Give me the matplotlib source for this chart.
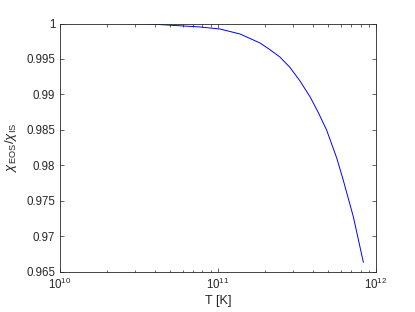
import matplotlib
matplotlib.use("Agg")
import matplotlib.pyplot as plt
import numpy as np

plt.rcParams['font.family'] = ['Liberation Sans', 'DejaVu Sans']
plt.rcParams['mathtext.fontset'] = 'custom'
plt.rcParams['mathtext.rm'] = 'Liberation Sans'
plt.rcParams['mathtext.it'] = 'Liberation Sans:italic'

# data
log_T = [10.395, 10.572, 10.677, 10.888, 11.014, 11.141, 11.267, 11.330, 11.393, 11.456,
         11.520, 11.583, 11.634, 11.688, 11.752, 11.793, 11.857, 11.920]
ratio = [1.0000, 0.99993, 0.99979, 0.99951, 0.99922, 0.99852, 0.99725, 0.99630, 0.99527, 0.99381,
         0.99188, 0.98966, 0.98750, 0.98496, 0.98100, 0.97790, 0.97271, 0.96631]

xticks = [1e10, 1e11, 1e12]
yticks = [0.965, 0.97, 0.975, 0.98, 0.985, 0.99, 0.995, 1.0]
ytick_labels = ['0.965', '0.97', '0.975', '0.98', '0.985', '0.99', '0.995', '1']

T = [10 ** v for v in log_T]

fig = plt.figure(figsize=(4.15, 3.12), dpi=100)
ax = fig.add_axes([59.5 / 415, 1 - 271.5 / 312, (376 - 59.5) / 415, (271.5 - 23.5) / 312])
ax.plot(T, ratio, color='#0000ff', lw=0.7)
ax.set_xscale('log')
ax.set_xlim(1e10, 1e12)
ax.set_ylim(0.965, 1.0)
ax.set_xticks(xticks)
ax.set_yticks(yticks)
ax.set_yticklabels(ytick_labels)
ax.tick_params(which='both', direction='in', top=True, right=True, labelsize=8.3,
               colors='#262626', width=0.5)
ax.tick_params(which='major', length=3)
ax.tick_params(which='minor', length=1.8)
ax.tick_params(axis='x', pad=4)
ax.tick_params(axis='y', pad=3)
for s in ax.spines.values():
    s.set_linewidth(0.6)
    s.set_color('#262626')
ax.set_xlabel('T [K]', fontsize=9.2, color='#262626', labelpad=2)
ax.set_ylabel(r'$\chi_{\mathrm{EOS}}/\chi_{\mathrm{IS}}$', fontsize=9.5, color='#262626', labelpad=5)
fig.savefig('out.png', dpi=100)
